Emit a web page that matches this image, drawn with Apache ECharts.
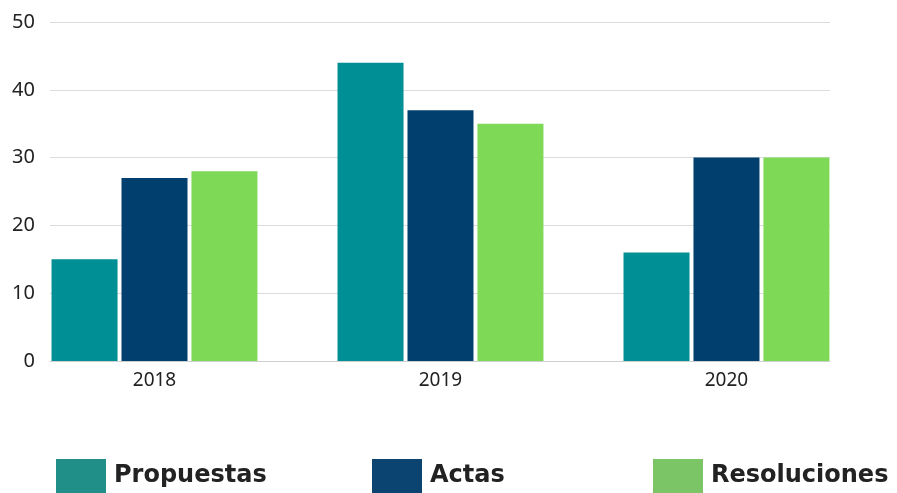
<!DOCTYPE html>
<html>
<head>
<meta charset="utf-8">
<script src="https://cdn.jsdelivr.net/npm/echarts@6/dist/echarts.min.js"></script>
<style>
html,body{margin:0;padding:0;background:#fff;}
#chart{width:897px;height:493px;}
</style>
</head>
<body>
<div id="chart"></div>
<script>
const categories = ['2018', '2019', '2020'];
const seriesNames = ['Propuestas', 'Actas', 'Resoluciones'];
const propuestas = [15, 44, 16];
const actas = [27, 37, 30];
const resoluciones = [28, 35, 30];
const yTicks = [0, 10, 20, 30, 40, 50];

const barColors = ['#008f94', '#003f6e', '#7ed957'];
const legendColors = ['#1f8f87', '#0b4470', '#7cc566'];
const values = [propuestas, actas, resoluciones];

const chart = echarts.init(document.getElementById('chart'));
const labelFont = "'Noto Sans', sans-serif";
const legendFont = "'DejaVu Sans', sans-serif";
const legendLefts = [56, 372, 653];

chart.setOption({
  animation: false,
  grid: { left: 50, right: 67, top: 22, bottom: 132, containLabel: false },
  xAxis: {
    type: 'value',
    min: -0.3654,
    max: 2.362,
    splitLine: { show: false },
    axisTick: { show: false },
    axisLine: { show: true, lineStyle: { color: '#cfcfcf', width: 1 } },
    axisLabel: {
      customValues: categories.map((c, i) => i),
      formatter: v => categories[Math.round(v)],
      color: '#222',
      fontSize: 19,
      fontFamily: labelFont,
      margin: 10
    }
  },
  yAxis: {
    type: 'value',
    min: 0,
    max: 50,
    interval: 10,
    axisLine: { show: false },
    axisTick: { show: false },
    splitLine: { lineStyle: { color: '#dcdcdc', width: 1 } },
    axisLabel: {
      customValues: yTicks,
      color: '#222',
      fontSize: 20,
      fontFamily: labelFont,
      margin: 15
    }
  },
  legend: seriesNames.map((n, i) => ({
    left: legendLefts[i],
    top: 459,
    padding: 0,
    itemWidth: 50,
    itemHeight: 34,
    itemGap: 0,
    icon: 'rect',
    data: [{ name: n, itemStyle: { color: legendColors[i] } }],
    textStyle: { fontSize: 24, fontWeight: 'bold', color: '#222', fontFamily: legendFont, padding: [0, 0, 0, 3] }
  })),
  series: seriesNames.map((n, i) => ({
    name: n,
    type: 'bar',
    barWidth: 66,
    barGap: '6%',
    itemStyle: { color: barColors[i] },
    data: values[i].map((v, j) => [j, v])
  }))
});
</script>
</body>
</html>
